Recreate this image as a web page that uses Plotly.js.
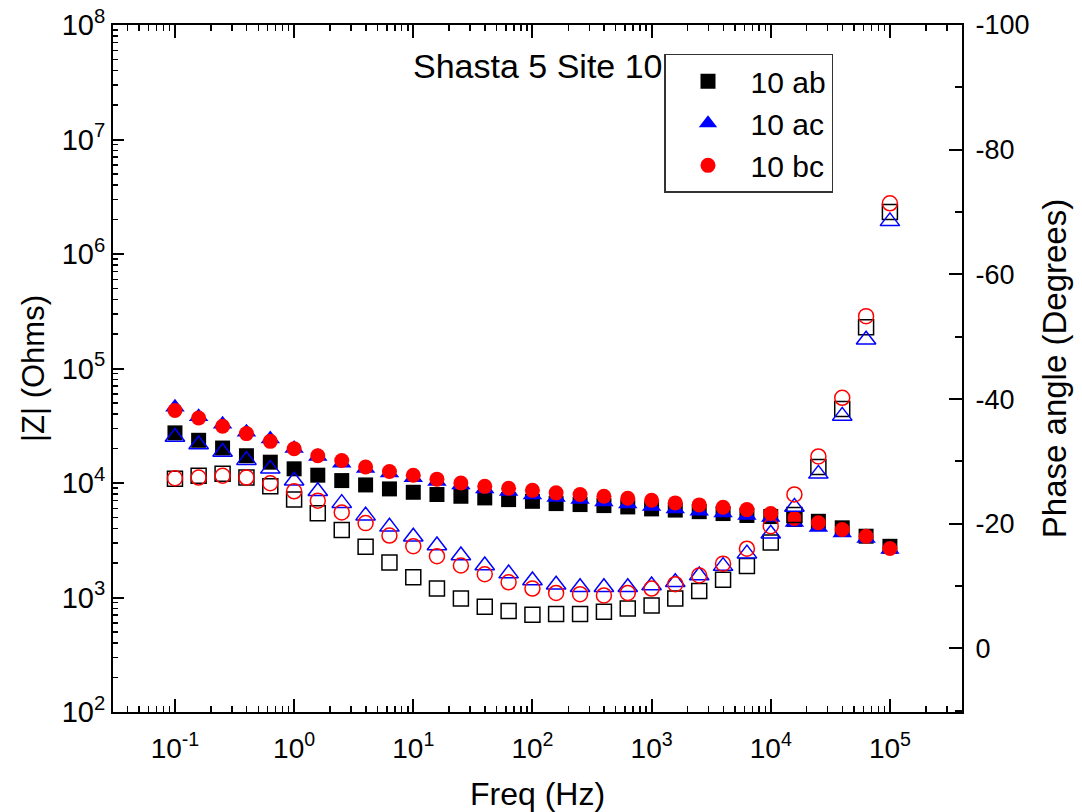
<!DOCTYPE html>
<html>
<head>
<meta charset="utf-8">
<script src="https://cdn.plot.ly/plotly-3.0.1.min.js"></script>
<style>html,body{margin:0;padding:0;background:#fff;}#chart{width:1082px;height:812px;}</style>
</head>
<body>
<div id="chart"></div>
<script>
// Frequencies (Hz), 5 points per decade
const freq = [0.1, 0.158, 0.251, 0.398, 0.631, 1, 1.58, 2.51, 3.98, 6.31,
  10, 15.8, 25.1, 39.8, 63.1, 100, 158, 251, 398, 631,
  1000, 1580, 2510, 3980, 6310, 10000, 15800, 25100, 39800, 63100, 100000];

// |Z| (Ohms) - filled markers, left axis
const zAb = [27400, 23600, 20200, 17300, 15200, 13300, 11700, 10500, 9620, 8880,
  8300, 7930, 7660, 7410, 7160, 6920, 6610, 6480, 6350, 6180,
  5940, 5800, 5620, 5410, 5200, 5090, 4800, 4630, 4060, 3430, 2800];
const zAc = [45900, 37900, 32600, 27800, 24200, 20000, 17000, 14900, 13400, 12200,
  11100, 10300, 9590, 8850, 8410, 7840, 7460, 7170, 6810, 6540,
  6220, 5920, 5680, 5460, 5200, 4990, 4510, 4080, 3660, 3270, 2620];
const zBc = [43000, 37000, 31300, 27000, 23100, 19900, 17300, 15700, 13800, 12600,
  11700, 10800, 10000, 9350, 9000, 8630, 8200, 7930, 7660, 7350,
  7060, 6700, 6440, 6140, 5860, 5410, 4890, 4490, 3920, 3430, 2680];

// Phase angle (degrees) - open markers, right axis
const phAb = [-27.2, -27.7, -28.0, -27.4, -26.0, -23.9, -21.7, -19.0, -16.3, -13.8,
  -11.4, -9.6, -8.0, -6.7, -6.0, -5.4, -5.5, -5.5, -5.9, -6.4,
  -6.9, -8.0, -9.2, -11.0, -13.2, -17.0, -21.4, -29.1, -38.4, -51.5, -70.0];
const phAc = [-33.9, -32.7, -31.5, -30.2, -28.8, -26.9, -25.2, -23.3, -21.3, -19.5,
  -17.9, -16.5, -14.9, -13.3, -12.0, -10.9, -10.2, -9.8, -9.8, -9.8,
  -10.1, -10.6, -11.7, -13.2, -15.2, -18.4, -22.7, -28.0, -37.3, -49.5, -68.5];
const phBc = [-27.3, -27.4, -27.7, -27.4, -26.5, -25.2, -23.7, -21.8, -20.1, -18.1,
  -16.4, -14.8, -13.3, -11.9, -10.6, -9.6, -8.9, -8.7, -8.5, -8.9,
  -9.6, -10.3, -11.7, -13.6, -16.0, -19.6, -24.7, -30.8, -40.2, -53.3, -71.4];

const seriesNames = ['10 ab', '10 ac', '10 bc'];
const chartTitle = 'Shasta 5 Site 10';

// Tick values and labels
const xTickVals = [0.1, 1, 10, 100, 1000, 10000, 100000];
const xTickText = ['10<sup>-1</sup>', '10<sup>0</sup>', '10<sup>1</sup>', '10<sup>2</sup>',
  '10<sup>3</sup>', '10<sup>4</sup>', '10<sup>5</sup>'];
const yTickVals = [100, 1000, 10000, 100000, 1000000, 10000000, 100000000];
const yTickText = ['10<sup>2</sup>', '10<sup>3</sup>', '10<sup>4</sup>', '10<sup>5</sup>',
  '10<sup>6</sup>', '10<sup>7</sup>', '10<sup>8</sup>'];
const y2TickVals = [0, -20, -40, -60, -80, -100];
const y2TickText = ['0', '-20', '-40', '-60', '-80', '-100'];

const FONT = 'Arial, "Liberation Sans", sans-serif';

const traces = [
  {x: freq, y: zAb, name: seriesNames[0], mode: 'markers', type: 'scatter',
   marker: {symbol: 'square', size: 15, color: '#000000'}},
  {x: freq, y: zAc, name: seriesNames[1], mode: 'markers', type: 'scatter',
   marker: {symbol: 'triangle-up', size: 17, color: '#0000ff'}},
  {x: freq, y: zBc, name: seriesNames[2], mode: 'markers', type: 'scatter',
   marker: {symbol: 'circle', size: 15, color: '#ff0000'}},
  {x: freq, y: phAb, name: seriesNames[0] + ' phase', yaxis: 'y2', mode: 'markers', type: 'scatter', showlegend: false,
   marker: {symbol: 'square-open', size: 15, color: '#000000', line: {width: 1.5, color: '#000000'}}},
  {x: freq, y: phAc, name: seriesNames[1] + ' phase', yaxis: 'y2', mode: 'markers', type: 'scatter', showlegend: false,
   marker: {symbol: 'triangle-up-open', size: 17, color: '#0000ff', line: {width: 1.5, color: '#0000ff'}}},
  {x: freq, y: phBc, name: seriesNames[2] + ' phase', yaxis: 'y2', mode: 'markers', type: 'scatter', showlegend: false,
   marker: {symbol: 'circle-open', size: 15, color: '#ff0000', line: {width: 1.5, color: '#ff0000'}}}
];

const layout = {
  width: 1082, height: 812,
  margin: {l: 113, r: 120, t: 25, b: 100},
  paper_bgcolor: '#ffffff', plot_bgcolor: '#ffffff',
  font: {family: FONT, color: '#000000', size: 24},
  showlegend: true,
  xaxis: {
    type: 'log', range: [-1.52, 5.605],
    showgrid: false, zeroline: false,
    showline: true, linecolor: '#000', linewidth: 2, mirror: 'ticks',
    ticks: 'inside', ticklen: 13, tickwidth: 2, tickcolor: '#000',
    tickmode: 'array', tickvals: xTickVals, ticktext: xTickText,
    ticklabelstandoff: 10,
    tickfont: {size: 28, family: FONT},
    minor: {ticks: 'inside', ticklen: 6, tickwidth: 1.5, tickcolor: '#000', dtick: 'D1', showgrid: false},
    title: {text: 'Freq (Hz)', font: {size: 32, family: FONT}, standoff: 20}
  },
  yaxis: {
    type: 'log', range: [2, 8],
    showgrid: false, zeroline: false,
    showline: true, linecolor: '#000', linewidth: 2, mirror: false,
    ticks: 'inside', ticklen: 11, tickwidth: 2, tickcolor: '#000',
    tickmode: 'array', tickvals: yTickVals, ticktext: yTickText,
    tickfont: {size: 29, family: FONT},
    minor: {ticks: 'inside', ticklen: 5, tickwidth: 1.5, tickcolor: '#000', dtick: 'D1', showgrid: false},
    title: {text: '|Z| (Ohms)', font: {size: 31, family: FONT}, standoff: 8}
  },
  yaxis2: {
    overlaying: 'y', side: 'right',
    range: [10.2, -100],
    showgrid: false, zeroline: false,
    showline: true, linecolor: '#000', linewidth: 2,
    ticks: 'inside', ticklen: 13, tickwidth: 2, tickcolor: '#000',
    tickmode: 'array', tickvals: y2TickVals, ticktext: y2TickText,
    ticklabelstandoff: 6,
    tickfont: {size: 27, family: FONT},
    minor: {ticks: 'inside', ticklen: 7, tickwidth: 2, tickcolor: '#000', dtick: 10, tick0: 0, showgrid: false},
    title: {text: 'Phase angle (Degrees)', font: {size: 33, family: FONT}, standoff: 14}
  },
  legend: {
    x: 0.649, y: 0.958, xanchor: 'left', yanchor: 'top',
    bordercolor: '#333', borderwidth: 1.5, bgcolor: '#ffffff',
    font: {size: 30, family: FONT, color: '#000'},
    itemwidth: 75, tracegroupgap: 0
  },
  annotations: [{
    text: chartTitle, xref: 'paper', yref: 'paper', x: 0.5, y: 0.94,
    xanchor: 'center', yanchor: 'middle', showarrow: false,
    font: {size: 34, family: FONT, color: '#000'}
  }]
};

Plotly.newPlot('chart', traces, layout, {displayModeBar: false, staticPlot: true});
</script>
</body>
</html>
